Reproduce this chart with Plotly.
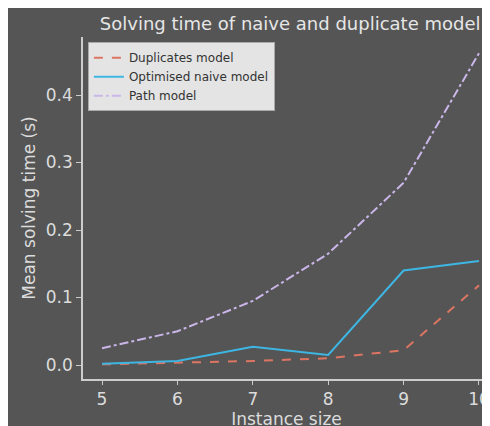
import plotly.graph_objects as go

sizes = [5, 6, 7, 8, 9, 10]
duplicates = [0.001, 0.003, 0.006, 0.010, 0.022, 0.118]
optimised = [0.002, 0.006, 0.027, 0.015, 0.140, 0.154]
path = [0.025, 0.050, 0.095, 0.165, 0.270, 0.462]
y_ticks = [0.0, 0.1, 0.2, 0.3, 0.4]

fig = go.Figure()
fig.add_trace(go.Scatter(x=sizes, y=duplicates, mode="lines", name="Duplicates model",
                         line=dict(color="#dd7563", width=2, dash="dash")))
fig.add_trace(go.Scatter(x=sizes, y=optimised, mode="lines", name="Optimised naive model",
                         line=dict(color="#3db6e3", width=2)))
fig.add_trace(go.Scatter(x=sizes, y=path, mode="lines", name="Path model",
                         line=dict(color="#cbb6ea", width=2, dash="dashdot")))

tick_font = dict(family="DejaVu Sans", size=17, color="#dcdcdc")
title_font = dict(family="DejaVu Sans", size=17, color="#dcdcdc")
# page body has an 8px margin, so figure origin sits at (8, 8) in the window
fig.update_layout(
    width=490, height=426,
    paper_bgcolor="#555555", plot_bgcolor="#555555",
    margin=dict(l=75, r=8, t=29, b=55),
    font=dict(family="DejaVu Sans", color="#dcdcdc"),
    title=dict(text="Solving time of naive and duplicate model", x=0.509, xref="paper",
               xanchor="center", y=0.962, yref="container", yanchor="middle",
               font=dict(family="DejaVu Sans", size=18, color="#e6e6e6")),
    showlegend=True,
    legend=dict(x=0.012, y=0.985, xanchor="left", yanchor="top",
                bgcolor="#e4e4e4", bordercolor="#aaaaaa", borderwidth=1,
                font=dict(family="DejaVu Sans", size=12, color="#333333"),
                tracegroupgap=0, itemwidth=30),
    xaxis=dict(range=[4.748, 10.146], tickvals=sizes, ticktext=[str(s) for s in sizes],
               showgrid=False, zeroline=False, showline=True, linecolor="#cccccc", linewidth=1.5,
               ticks="outside", ticklen=4, tickcolor="#cccccc", tickfont=tick_font,
               title=dict(text="Instance size", font=title_font, standoff=0)),
    yaxis=dict(range=[-0.0207, 0.486], tickvals=y_ticks,
               ticktext=[f"{v:.1f}" for v in y_ticks],
               showgrid=False, zeroline=False, showline=True, linecolor="#cccccc", linewidth=1.5,
               ticks="outside", ticklen=5, tickcolor="#cccccc", tickfont=tick_font,
               title=dict(text="Mean solving time (s)", font=title_font, standoff=6)),
)

fig.write_html("out.html")
